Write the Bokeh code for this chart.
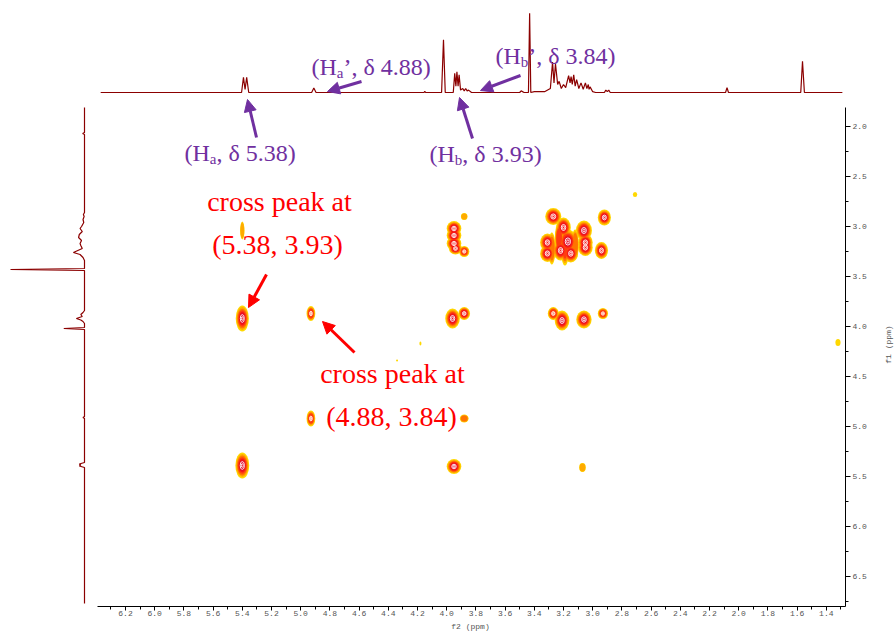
from bokeh.plotting import figure
from bokeh.layouts import column, row
from bokeh.models import (Range1d, Label, Arrow, NormalHead, SingleIntervalTicker,
                          NumeralTickFormatter, ColumnDataSource)
from bokeh.embed import file_html
from bokeh.resources import INLINE

# ---------------- data ----------------
# 1D projection on top: f2 ppm vertices and relative intensity
top_ppm = [6.37, 5.405, 5.392, 5.381, 5.370, 5.356,
           4.925, 4.91, 4.895,
           4.155, 4.15, 4.145,
           4.035, 4.022, 4.01,
           3.955, 3.945, 3.937, 3.930, 3.922, 3.915, 3.905, 3.89, 3.88, 3.87, 3.86, 3.85, 3.83,
           3.50, 3.49, 3.47, 3.44, 3.432, 3.424, 3.40, 3.33,
           3.29, 3.275, 3.265, 3.255, 3.24, 3.23, 3.215, 3.20, 3.185, 3.165, 3.155, 3.148,
           3.14, 3.13, 3.12, 3.11, 3.095, 3.08, 3.065, 3.05, 3.04, 3.03, 3.025, 3.018, 3.0, 2.98,
           2.92, 2.91, 2.90, 2.89, 2.88,
           2.09, 2.08, 2.07,
           1.575, 1.563, 1.55,
           1.29]
top_int = [0.0, 0.0, 0.19, 0.04, 0.19, 0.0,
           0.0, 0.055, 0.0,
           0.0, 0.015, 0.0,
           0.0, 0.66, 0.0,
           0.0, 0.24, 0.08, 0.26, 0.08, 0.22, 0.03, 0.05, 0.02, 0.05, 0.02, 0.03, 0.0,
           0.0, 0.02, 0.0, 0.0, 0.99, 0.0, 0.01, 0.01,
           0.05, 0.38, 0.12, 0.36, 0.10, 0.14, 0.05, 0.10, 0.06, 0.21, 0.12, 0.20,
           0.10, 0.22, 0.08, 0.16, 0.05, 0.12, 0.04, 0.12, 0.05, 0.10, 0.04, 0.07, 0.01, 0.0,
           0.0, 0.03, 0.01, 0.03, 0.0,
           0.0, 0.06, 0.0,
           0.0, 0.39, 0.0,
           0.0]

# 1D projection on the left: f1 ppm vertices and relative intensity
left_ppm = [1.81, 2.06, 2.07, 2.08,
            2.86, 2.88, 2.90, 2.93, 2.96, 3.00, 3.02, 3.05, 3.08, 3.11, 3.14, 3.17, 3.19, 3.22,
            3.25, 3.26, 3.28, 3.31, 3.34,
            3.42, 3.43, 3.44,
            3.84, 3.86, 3.88, 3.90, 3.92, 3.935, 3.95, 3.97,
            4.01, 4.02, 4.03,
            4.90, 4.91, 4.92,
            5.36, 5.375, 5.385, 5.395, 5.41,
            6.77]
left_int = [0.0, 0.0, 0.025, 0.0,
            0.0, 0.015, 0.005, 0.02, 0.01, 0.04, 0.06, 0.03, 0.07, 0.08, 0.04, 0.06, 0.05, 0.03,
            0.12, 0.15, 0.06, 0.02, 0.0,
            0.0, 1.0, 0.0,
            0.0, 0.02, 0.05, 0.03, 0.11, 0.05, 0.02, 0.0,
            0.0, 0.28, 0.0,
            0.0, 0.02, 0.0,
            0.0, 0.07, 0.05, 0.07, 0.0,
            0.0]

# 2D COSY peaks: f2 ppm, f1 ppm, number of contour levels, linewidths (ppm)
peak_f2 = [5.40, 5.40, 4.93, 4.93, 5.40,
           3.95, 3.95, 3.95, 3.94, 3.88, 3.88, 3.96, 3.88, 3.88, 3.95, 3.07,
           3.27, 2.92, 3.20, 3.06, 3.31, 3.17, 3.05, 3.31, 3.22, 3.15, 3.05, 2.94,
           3.19, 3.23, 3.28, 3.12,
           3.27, 3.21, 3.06, 2.93,
           4.18, 4.34, 2.71, 1.32]
peak_f1 = [3.92, 3.04, 3.87, 4.92, 5.39,
           3.02, 3.09, 3.17, 3.22, 3.25, 2.90, 3.92, 3.87, 4.92, 5.40, 5.41,
           2.90, 2.91, 3.01, 3.04, 3.16, 3.15, 3.16, 3.27, 3.24, 3.27, 3.21, 3.24,
           3.20, 3.12, 3.22, 3.18,
           3.87, 3.94, 3.93, 3.87,
           4.17, 4.34, 2.68, 4.16]
peak_level = [6, 2, 4, 4, 6,
              5, 5, 5, 5, 4, 2, 6, 5, 3, 6, 2,
              5, 6, 5, 6, 5, 6, 5, 5, 5, 5, 5, 5,
              4, 4, 3, 3,
              4, 6, 6, 4,
              1, 1, 1, 1]
peak_lw2 = [0.09, 0.03, 0.06, 0.06, 0.095,
            0.10, 0.10, 0.10, 0.09, 0.07, 0.045, 0.10, 0.08, 0.06, 0.10, 0.045,
            0.11, 0.09, 0.10, 0.11, 0.10, 0.12, 0.10, 0.10, 0.10, 0.10, 0.10, 0.09,
            0.06, 0.06, 0.05, 0.05,
            0.075, 0.10, 0.105, 0.07,
            0.014, 0.014, 0.03, 0.035]
peak_lw1 = [0.26, 0.18, 0.15, 0.16, 0.26,
            0.15, 0.14, 0.14, 0.12, 0.11, 0.07, 0.20, 0.13, 0.08, 0.15, 0.09,
            0.17, 0.16, 0.20, 0.20, 0.18, 0.24, 0.17, 0.17, 0.20, 0.18, 0.17, 0.17,
            0.38, 0.32, 0.32, 0.30,
            0.13, 0.20, 0.18, 0.11,
            0.04, 0.02, 0.05, 0.07]

x_ticks_step = 0.2
y_ticks_step = 0.5

# ---------------- layout ----------------
W, H = 896, 632
MAIN_W, MAIN_H = 872, 620          # main figure; thin strips hold the axis titles
FRAME_W, FRAME_H = 845, 606


def px2x(px):
    return 6.2 - (px - 125) / 146.0


def py2y(py):
    return 2.0 + (py - 126) / 100.0


PURPLE = "#7030A0"
RED = "#FF0000"
SPEC = "#8B0000"
GREY = "#555555"

p = figure(width=MAIN_W, height=MAIN_H, output_backend="svg", toolbar_location=None,
           x_range=Range1d(px2x(0), px2x(FRAME_W)),
           y_range=Range1d(py2y(FRAME_H), py2y(0)),
           x_axis_location="below", y_axis_location="right",
           min_border_left=0, min_border_top=0,
           min_border_right=MAIN_W - FRAME_W, min_border_bottom=MAIN_H - FRAME_H)
p.outline_line_color = None
p.grid.visible = False
p.background_fill_color = "white"
p.border_fill_color = "white"

# extra ranges for the 1D projections
b0, b1 = FRAME_H - 92, FRAME_H - 12          # top: intensity 0 at y=92, 1 at y=12
slope_t = (b1 - b0)
p.extra_y_ranges = {"top": Range1d(0 - b0 / slope_t, 0 + (FRAME_H - b0) / slope_t)}
slope_l = (10 - 84)                           # left: intensity 0 at x=84, 1 at x=10
p.extra_x_ranges = {"left": Range1d(0 - 84 / slope_l, 0 + (FRAME_W - 84) / slope_l)}

# axes
for ax, step, bnd in ((p.xaxis[0], x_ticks_step, (px2x(FRAME_W), px2x(97))),
                      (p.yaxis[0], y_ticks_step, (py2y(107), py2y(FRAME_H)))):
    ax.ticker = SingleIntervalTicker(interval=step, num_minor_ticks=2)
    ax.formatter = NumeralTickFormatter(format="0.0")
    ax.bounds = bnd
    ax.axis_line_color = "black"
    ax.axis_line_width = 1
    ax.major_tick_line_color = "black"
    ax.minor_tick_line_color = "black"
    ax.major_tick_in = 0
    ax.minor_tick_in = 0
    ax.minor_tick_out = 3
    ax.major_label_text_font = "Liberation Mono"
    ax.major_label_text_font_size = "8px"
    ax.major_label_text_color = GREY
p.xaxis.major_tick_out = 4
p.xaxis.major_label_standoff = 0
p.yaxis.major_tick_out = 5
p.yaxis.major_label_standoff = 2

# 1D projections
p.line(top_ppm, top_int, y_range_name="top", line_color=SPEC, line_width=1.2)
p.line(left_int, left_ppm, x_range_name="left", line_color=SPEC, line_width=1.2)

# 2D contours drawn as nested filled ellipses
scales = [1.0, 0.88, 0.76, 0.64, 0.52, 0.40]
colors = ["#FFD800", "#FFAA00", "#FF7400", "#FF3C10", "#F41818", "#E20A2A"]
n = len(peak_f2)
for k, (s, c) in enumerate(zip(scales, colors)):
    idx = [i for i in range(n) if peak_level[i] > k]
    src = ColumnDataSource(dict(
        x=[peak_f2[i] for i in idx], y=[peak_f1[i] for i in idx],
        w=[peak_lw2[i] * s for i in idx], h=[peak_lw1[i] * s for i in idx]))
    p.ellipse(x="x", y="y", width="w", height="h", source=src,
              fill_color=c, line_color=None)
for s in (0.30, 0.14):
    idx = [i for i in range(n) if peak_level[i] >= 4 and peak_lw1[i] < 0.3]
    src = ColumnDataSource(dict(
        x=[peak_f2[i] for i in idx], y=[peak_f1[i] for i in idx],
        w=[peak_lw2[i] * s for i in idx], h=[peak_lw1[i] * s for i in idx]))
    p.ellipse(x="x", y="y", width="w", height="h", source=src,
              fill_color=None, line_color="white", line_width=0.9)


# ---------------- annotations ----------------
def add_text(px, py, text, size, color, align="left", font="Liberation Serif"):
    p.add_layout(Label(x=px2x(px), y=py2y(py), text=text, text_font=font,
                       text_font_size=f"{size}px", text_color=color,
                       text_align=align, text_baseline="middle"))


def purple_label(px_left, py_mid, sub, rest, size=24, sub_size=15):
    add_text(px_left, py_mid, "(H", size, PURPLE)
    xs = px_left + (0.333 + 0.722) * size
    add_text(xs, py_mid + 6, sub, sub_size, PURPLE)
    sw = (0.444 if sub == "a" else 0.5) * sub_size
    add_text(xs + sw, py_mid, rest, size, PURPLE)


def arrow(x0, y0, x1, y1, color, width=3, size=12):
    p.add_layout(Arrow(end=NormalHead(size=size, fill_color=color, line_color=color),
                       x_start=px2x(x0), y_start=py2y(y0),
                       x_end=px2x(x1), y_end=py2y(y1),
                       line_color=color, line_width=width))


purple_label(184, 152, "a", ", δ 5.38)")
purple_label(311, 66, "a", "’, δ 4.88)")
purple_label(495, 55, "b", "’, δ 3.84)")
purple_label(429, 153, "b", ", δ 3.93)")

arrow(256, 137, 247, 99, PURPLE)
arrow(361, 81, 327, 91, PURPLE)
arrow(520, 75, 480, 90, PURPLE)
arrow(472, 138, 459, 97, PURPLE)

add_text(279, 201, "cross peak at", 28, RED, align="center")
add_text(277, 244, "(5.38, 3.93)", 28, RED, align="center")
add_text(392, 373, "cross peak at", 28, RED, align="center")
add_text(391, 416, "(4.88, 3.84)", 28, RED, align="center")

arrow(266, 274, 248, 307, RED)
arrow(354, 352, 322, 321, RED)


# ---------------- axis-title strips ----------------
def strip(w, h):
    f = figure(width=w, height=h, output_backend="svg", toolbar_location=None,
               x_range=Range1d(0, w), y_range=Range1d(h, 0),
               min_border_left=0, min_border_right=0, min_border_top=0, min_border_bottom=0)
    f.axis.visible = False
    f.grid.visible = False
    f.outline_line_color = None
    f.background_fill_color = "white"
    f.border_fill_color = "white"
    return f


r_strip = strip(W - MAIN_W, MAIN_H)
r_strip.add_layout(Label(x=888 - MAIN_W, y=352, text="f1 (ppm)", text_font="Liberation Mono",
                         text_font_size="8px", text_color=GREY, text_align="center",
                         text_baseline="middle", angle=1.5708))
b_strip = strip(W, H - MAIN_H)
b_strip.add_layout(Label(x=470, y=(H - MAIN_H) / 2, text="f2 (ppm)", text_font="Liberation Mono",
                         text_font_size="8px", text_color=GREY, text_align="center",
                         text_baseline="middle"))

layout = column(row(p, r_strip, spacing=0), b_strip, spacing=0)
open("out.html", "w").write(file_html(layout, INLINE))
